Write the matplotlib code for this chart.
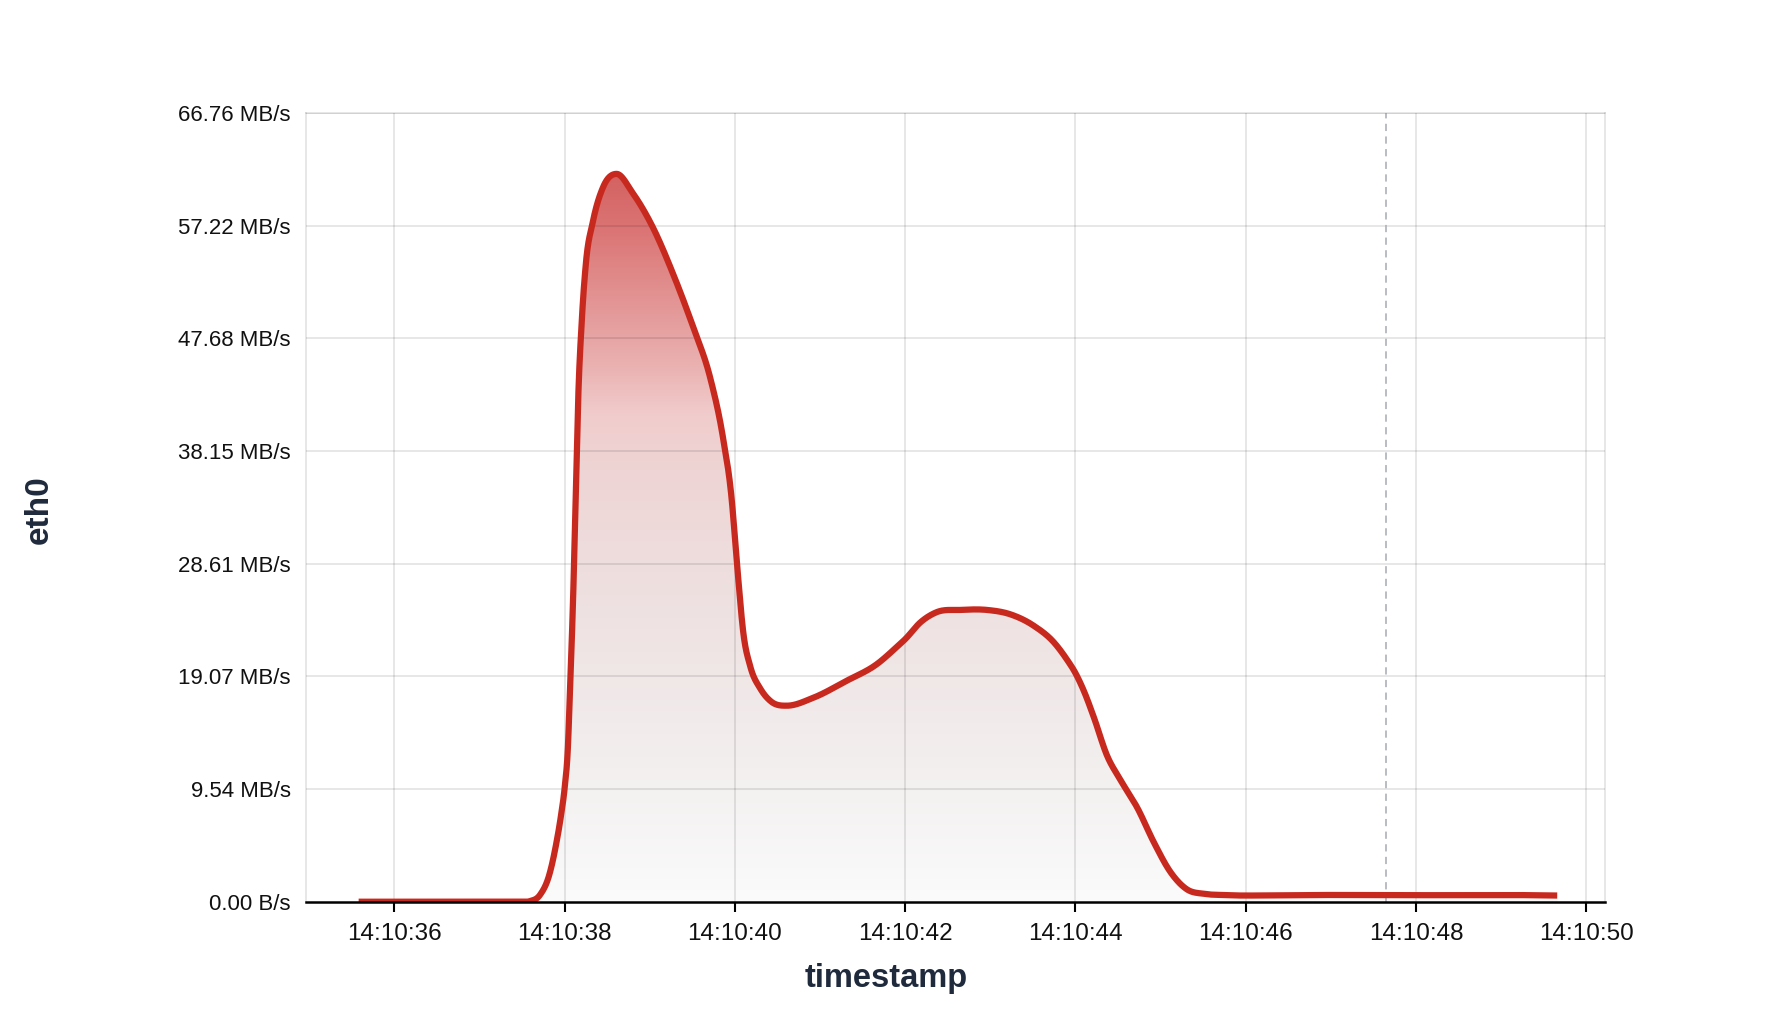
import numpy as np
import matplotlib
matplotlib.use("Agg")
import matplotlib.pyplot as plt
from matplotlib.ticker import FixedLocator, FuncFormatter
from matplotlib.colors import LinearSegmentedColormap

plt.rcParams["font.family"] = ["Liberation Sans", "DejaVu Sans"]

# ---------- Data (seconds after 14:10:00, throughput in MB = 1e6 bytes/s) ----------
t_sec = [35.58, 36.0, 36.5, 37.0, 37.47, 37.59, 37.71, 37.82, 37.90, 37.96,
         38.0, 38.04, 38.06, 38.10, 38.13, 38.16, 38.20, 38.25, 38.33, 38.45,
         38.61, 38.80, 39.04, 39.27, 39.51, 39.71, 39.86, 39.96, 40.03, 40.10,
         40.18, 40.30, 40.42, 40.61, 40.92, 41.31, 41.67, 41.90, 42.0, 42.18,
         42.37, 42.65, 42.96, 43.24, 43.51, 43.75, 43.90, 44.0, 44.10, 44.22,
         44.37, 44.53, 44.73, 44.92, 45.12, 45.31, 45.51, 45.71, 46.0, 47.0,
         48.0, 49.0, 49.66]
rate_mb = [0.0, 0.0, 0.0, 0.0, 0.0, 0.05, 0.6, 2.4, 5.1, 7.8,
           10.1, 14.0, 18.2, 27.1, 35.9, 44.8, 51.4, 56.7, 60.3, 63.4,
           64.6, 62.9, 59.8, 55.8, 51.0, 46.5, 41.2, 35.9, 29.5, 23.8,
           20.9, 18.9, 17.8, 17.4, 18.1, 19.6, 21.1, 22.6, 23.3, 24.8,
           25.7, 25.9, 25.9, 25.5, 24.5, 23.0, 21.5, 20.3, 18.7, 16.3,
           13.0, 10.8, 8.3, 5.3, 2.6, 1.1, 0.7, 0.6, 0.55, 0.6,
           0.58, 0.6, 0.55]
cursor_sec = 47.65

x_ticks = [36, 38, 40, 42, 44, 46, 48, 50]
y_ticks_bytes = [0, 10e6, 20e6, 30e6, 40e6, 50e6, 60e6, 70e6]

LINE_RED = "#c8291f"
GRID = (0, 0, 0, 0.115)
TITLE_COLOR = "#1f2a3c"


# cubic Hermite curve with three-point tangents, only used to draw the line smoothly
def smooth_curve(x, y, n=40):
    x = np.asarray(x, float)
    y = np.asarray(y, float)
    h = np.diff(x)
    d = np.diff(y) / h
    m = np.zeros_like(y)
    m[0], m[-1] = d[0], d[-1]
    for i in range(1, len(x) - 1):
        if d[i - 1] * d[i] < 0:
            m[i] = 0.0
        else:
            m[i] = (d[i - 1] * h[i] + d[i] * h[i - 1]) / (h[i - 1] + h[i])
    xs, ys = [], []
    for i in range(len(x) - 1):
        s = np.linspace(0, 1, n, endpoint=False)
        h00 = 2 * s**3 - 3 * s**2 + 1
        h10 = s**3 - 2 * s**2 + s
        h01 = -2 * s**3 + 3 * s**2
        h11 = s**3 - s**2
        xs.append(x[i] + s * h[i])
        ys.append(h00 * y[i] + h10 * h[i] * m[i] + h01 * y[i + 1] + h11 * h[i] * m[i + 1])
    xs.append([x[-1]])
    ys.append([y[-1]])
    return np.concatenate(xs), np.clip(np.concatenate(ys), 0, None)


xs, ys = smooth_curve(t_sec, np.array(rate_mb) * 1e6)

fig = plt.figure(figsize=(17.72, 10.24), dpi=100)
ax = fig.add_axes([0.1728, 0.1194, 0.7327, 0.7702])

XLIM = (34.964, 50.216)
YLIM = (0, 70e6)

# ---------- gradient area ----------
peak = ys.max()
stops = [
    (0.00, (251, 251, 251)),
    (0.15, (244, 241, 241)),
    (0.31, (240, 231, 231)),
    (0.47, (238, 221, 221)),
    (0.62, (239, 210, 210)),
    (0.67, (241, 204, 204)),
    (0.73, (235, 180, 180)),
    (0.79, (230, 160, 160)),
    (0.93, (219, 115, 115)),
    (1.00, (212, 98, 98)),
]
cmap = LinearSegmentedColormap.from_list(
    "area", [(p, tuple(c / 255 for c in rgb)) for p, rgb in stops])
grad = np.linspace(0, 1, 512).reshape(-1, 1)
poly = ax.fill_between(xs, ys, 0, color="none", lw=0)
img = ax.imshow(grad, cmap=cmap, origin="lower", aspect="auto",
                extent=[xs[0], xs[-1], 0, peak], zorder=1)
img.set_clip_path(poly.get_paths()[0], transform=ax.transData)
ax.set_xlim(*XLIM)
ax.set_ylim(*YLIM)

# ---------- grid ----------
for yv in y_ticks_bytes[1:]:
    ax.axhline(yv, color=GRID, lw=1.2, zorder=2)
for xv in x_ticks:
    ax.axvline(xv, color=GRID, lw=1.2, zorder=2)

ax.axvline(cursor_sec, color="#b4b6bf", lw=1.3, ls=(0, (4, 3)), zorder=2)

ax.plot(xs, ys, color=LINE_RED, lw=4.5, zorder=3,
        solid_capstyle="butt", solid_joinstyle="round")

# ---------- axes styling ----------
for side in ("top", "left", "right"):
    ax.spines[side].set_color((0, 0, 0, 0.115))
    ax.spines[side].set_linewidth(1.2)
ax.spines["bottom"].set_color("black")
ax.spines["bottom"].set_linewidth(1.8)
ax.spines["bottom"].set_zorder(4)

ax.xaxis.set_major_locator(FixedLocator(x_ticks))
ax.xaxis.set_major_formatter(FuncFormatter(lambda v, p: f"14:10:{int(round(v)):02d}"))
ax.yaxis.set_major_locator(FixedLocator(y_ticks_bytes))


def fmt_rate(v, p):
    if v == 0:
        return "0.00 B/s"
    return f"{v / 1048576:.2f} MB/s"


ax.yaxis.set_major_formatter(FuncFormatter(fmt_rate))
ax.tick_params(axis="x", length=7, width=1.5, color="black", pad=8,
               labelsize=17.5, labelcolor="#111111")
ax.tick_params(axis="y", length=0, pad=11, labelsize=16, labelcolor="#111111")

fig.text(0.5, 0.0443, "timestamp", ha="center", va="center", fontsize=23.5,
         fontweight="bold", color=TITLE_COLOR)
fig.text(0.0223, 0.5023, "eth0", ha="center", va="center", rotation=90,
         fontsize=24, fontweight="bold", color=TITLE_COLOR)

fig.savefig("out.png", dpi=100, facecolor="white")
